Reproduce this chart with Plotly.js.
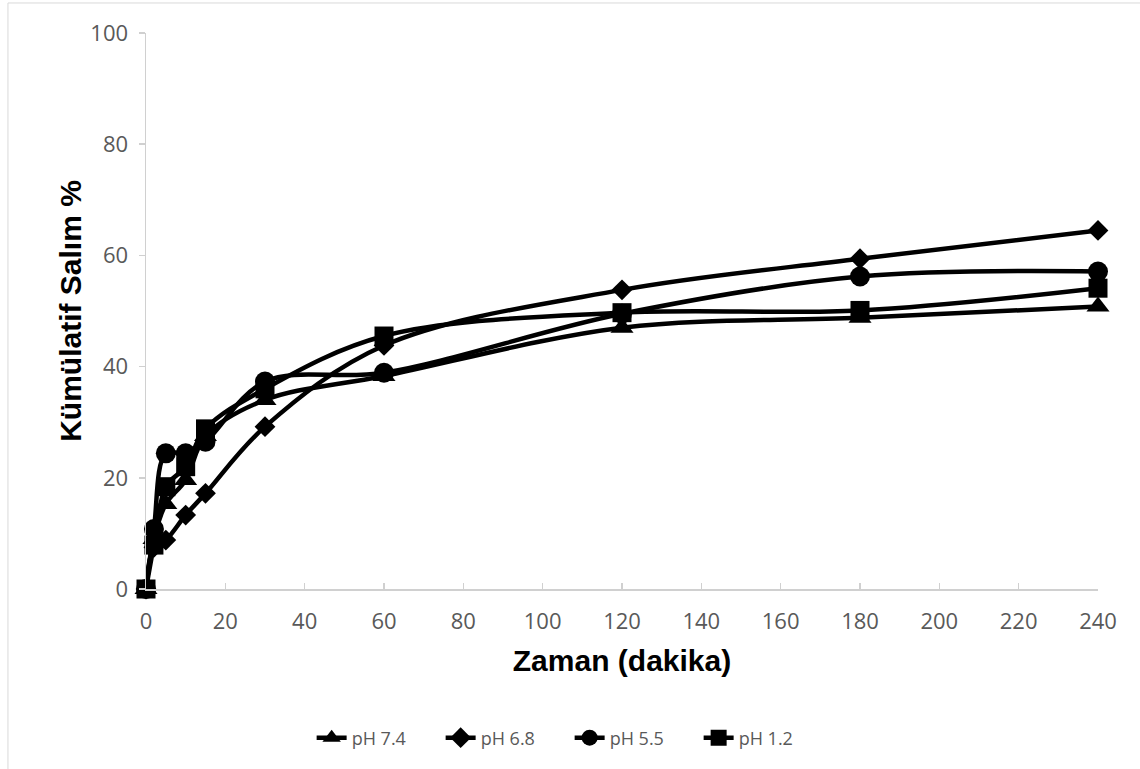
<!DOCTYPE html>
<html>
<head>
<meta charset="utf-8">
<script src="https://cdn.plot.ly/plotly-3.0.1.min.js"></script>
<style>html,body{margin:0;padding:0;background:#fff;}#chart{width:1140px;height:769px;}</style>
</head>
<body>
<div id="chart"></div>
<script>
const timeMin = [0, 2, 5, 10, 15, 30, 60, 120, 180, 240];
const seriesNames = ["pH 7.4", "pH 6.8", "pH 5.5", "pH 1.2"];
const ph74 = [0, 9.0, 15.3, 19.6, 27.5, 34.0, 38.3, 47.0, 48.8, 50.8];
const ph68 = [0, 7.5, 8.8, 13.3, 17.2, 29.2, 43.8, 53.8, 59.4, 64.5];
const ph55 = [0, 10.8, 24.4, 24.4, 26.5, 37.3, 38.9, 49.5, 56.2, 57.1];
const ph12 = [0, 7.9, 18.4, 22.0, 28.8, 36.0, 45.5, 49.7, 50.1, 54.1];
const xTicks = [0, 20, 40, 60, 80, 100, 120, 140, 160, 180, 200, 220, 240];
const yTicks = [0, 20, 40, 60, 80, 100];

const seriesValues = [ph74, ph68, ph55, ph12];
const symbols = ["triangle-up", "diamond", "circle", "square"];
const sizes = [20, 16, 20, 19];

const traces = seriesValues.map((vals, i) => ({
  x: timeMin, y: vals, name: seriesNames[i],
  type: "scatter", mode: "lines+markers",
  line: {color: "#000", width: 4.5, shape: "spline", smoothing: 1},
  marker: {symbol: symbols[i], size: sizes[i], color: "#000", line: {width: 0}},
  cliponaxis: false
}));

const layout = {
  width: 1140, height: 769,
  margin: {l: 146, r: 42, t: 33, b: 180},
  paper_bgcolor: "#fff", plot_bgcolor: "#fff",
  showlegend: true,
  font: {family: "Open Sans", color: "#595959"},
  xaxis: {
    range: [0, 240], tickvals: xTicks, ticktext: xTicks.map(String),
    showgrid: false, zeroline: false, showline: true, linecolor: "#d0d0d0", linewidth: 1.5,
    ticks: "inside", ticklen: 6, tickcolor: "#d0d0d0", tickwidth: 1.5,
    ticklabelstandoff: 12,
    tickfont: {family: "Open Sans", size: 22, color: "#595959"},
    title: {text: "Zaman (dakika)", font: {family: "Liberation Sans", size: 30, color: "#000", weight: "bold"}, standoff: 16}
  },
  yaxis: {
    range: [0, 100], tickvals: yTicks, ticktext: yTicks.map(String),
    showgrid: false, zeroline: false, showline: true, linecolor: "#d0d0d0", linewidth: 1.5,
    ticks: "outside", ticklen: 6, tickcolor: "#d0d0d0", tickwidth: 1.5,
    ticklabelstandoff: 6,
    tickfont: {family: "Open Sans", size: 22, color: "#595959"},
    title: {text: "Kümülatif Salım %", font: {family: "Liberation Sans", size: 30, color: "#000", weight: "bold"}, standoff: 0}
  },
  legend: {
    orientation: "h", x: 0.445, xanchor: "center", y: -0.268, yanchor: "middle",
    font: {family: "Open Sans", size: 18, color: "#595959"},
    traceorder: "normal", itemsizing: "trace",
    entrywidth: 84, entrywidthmode: "pixels"
  },
  shapes: [
    {type: "line", xref: "paper", yref: "paper", x0: -0.145, x1: 1.2, y0: 1.054, y1: 1.054, line: {color: "#d9d9d9", width: 1}},
    {type: "line", xref: "paper", yref: "paper", x0: -0.145, x1: -0.145, y0: 1.054, y1: -0.5, line: {color: "#d9d9d9", width: 1}}
  ]
};

Plotly.newPlot("chart", traces, layout, {displayModeBar: false, staticPlot: true});
</script>
</body>
</html>
